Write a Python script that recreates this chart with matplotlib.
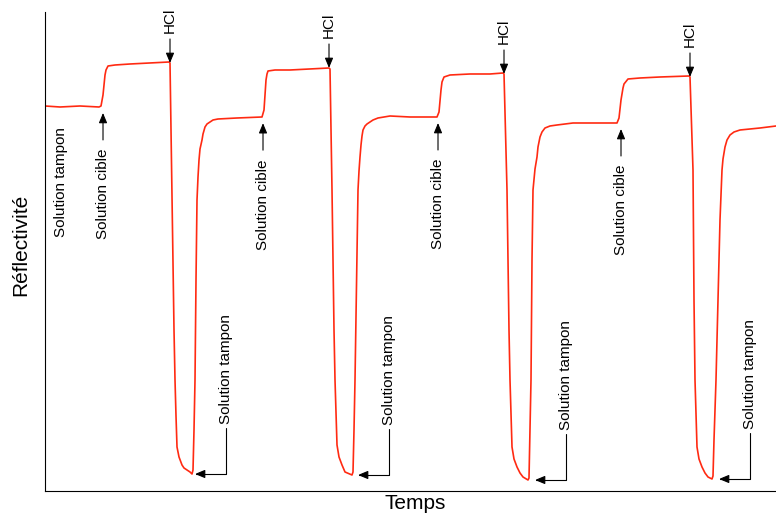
import matplotlib
matplotlib.use('Agg')
import matplotlib.pyplot as plt
import numpy as np

plt.rcParams['font.family'] = ['Liberation Sans', 'DejaVu Sans']

# signal (time and reflectivity, arbitrary units)
time = np.array([0, 15, 35, 54, 56, 58, 60, 61, 63, 70, 85, 105, 124,
                 125, 127, 129, 130, 131, 132, 134, 137, 139, 142, 145, 147, 148, 149, 150, 151,
                 152, 153, 154, 155, 157, 158, 160, 162, 165, 168, 173, 192, 217,
                 219, 221, 222, 223, 230, 245, 265, 284,
                 285, 287, 289, 290, 291, 292, 294, 297, 300, 307, 308, 309, 310, 312,
                 313, 314, 315, 316, 317, 318, 320, 322, 325, 328, 333, 345, 365, 392,
                 394, 396, 397, 399, 405, 425, 445, 458,
                 459, 462, 464, 465, 466, 467, 469, 472, 475, 478, 483, 484, 485, 486, 487,
                 488, 490, 492, 493, 495, 497, 500, 505, 512, 528, 555, 572,
                 574, 576, 578, 579, 583, 595, 615, 644,
                 645, 648, 649, 650, 651, 652, 654, 657, 660, 663, 667, 668, 669, 671, 673,
                 675, 677, 678, 680, 682, 685, 689, 695, 705, 715, 731])
refl = np.array([385, 384, 385, 384, 385, 396, 416, 421, 425, 426, 427, 428, 429,
                 428, 291, 161, 111, 75, 44, 34, 26, 23, 21, 19, 17, 21, 61, 111, 211,
                 291, 314, 331, 342, 351, 357, 364, 367, 369, 371, 372, 373, 374,
                 381, 411, 417, 420, 421, 421, 422, 423,
                 422, 301, 161, 111, 78, 46, 34, 26, 19, 16, 19, 61, 111, 241,
                 301, 320, 334, 346, 355, 361, 365, 367, 369, 371, 373, 375, 374, 374,
                 379, 401, 409, 414, 416, 417, 417, 418,
                 417, 301, 161, 111, 76, 44, 32, 24, 18, 14, 11, 13, 61, 111, 231,
                 301, 322, 334, 344, 354, 359, 363, 365, 366, 368, 368, 368,
                 373, 391, 403, 407, 412, 413, 414, 415,
                 414, 321, 191, 111, 76, 44, 32, 24, 18, 14, 12, 15, 51, 111, 191,
                 271, 321, 332, 344, 351, 356, 359, 361, 362, 363, 365])

# injection times
tampon_start_t = 14
cible_t = [58, 218, 393, 576]
hcl_t = [125, 284, 459, 645]
tampon_t = [150, 313, 490, 674]

red = '#ff2a12'
arrow = dict(arrowstyle='-|>,head_length=0.6,head_width=0.25', color='black',
             lw=0.8, shrinkA=0, shrinkB=0, mutation_scale=10)

fig = plt.figure(figsize=(7.76, 5.17), dpi=100)
ax = fig.add_axes([0.058, 0.0503, 0.942, 0.9265])
ax.plot(time, refl, color=red, lw=1.2)
ax.set_xlim(0, 731)
ax.set_ylim(0, 479)
ax.set_xticks([])
ax.set_yticks([])
for s in ['top', 'right']:
    ax.spines[s].set_visible(False)
for s in ['left', 'bottom']:
    ax.spines[s].set_linewidth(0.8)

ax.set_xlabel('Temps', fontsize=15)
ax.set_ylabel('Réflectivité', fontsize=15)
ax.xaxis.set_label_coords(0.506, -0.006)
ax.yaxis.set_label_coords(-0.0205, 0.514)

fs = 11
ax.annotate('Solution tampon', xy=(tampon_start_t, np.interp(tampon_start_t, time, refl)),
            xytext=(2, -20), textcoords='offset pixels', rotation=90,
            ha='center', va='top', fontsize=fs)

for t in cible_t:
    y = np.interp(t - 5, time, refl) - 6
    ax.annotate('', xy=(t, y), xytext=(0, -27), textcoords='offset pixels',
                arrowprops=arrow)
    ax.annotate('Solution cible', xy=(t, y), xytext=(0, -36), textcoords='offset pixels',
                rotation=90, ha='center', va='top', fontsize=fs)

for t in hcl_t:
    y = np.interp(t, time, refl)
    ax.annotate('', xy=(t, y), xytext=(0, 24), textcoords='offset pixels',
                arrowprops=arrow)
    ax.annotate('HCl', xy=(t, y), xytext=(0, 30), textcoords='offset pixels',
                rotation=90, ha='center', va='bottom', fontsize=fs)

for t in tampon_t:
    y = refl[np.abs(time - t) < 15].min()
    ax.annotate('', xy=(t, y), xytext=(31, 46), textcoords='offset pixels',
                arrowprops=dict(arrow, connectionstyle='angle,angleA=90,angleB=0,rad=0'))
    ax.annotate('Solution tampon', xy=(t, y), xytext=(31, 50), textcoords='offset pixels',
                rotation=90, ha='center', va='bottom', fontsize=fs)

fig.savefig('out.png', dpi=100)
